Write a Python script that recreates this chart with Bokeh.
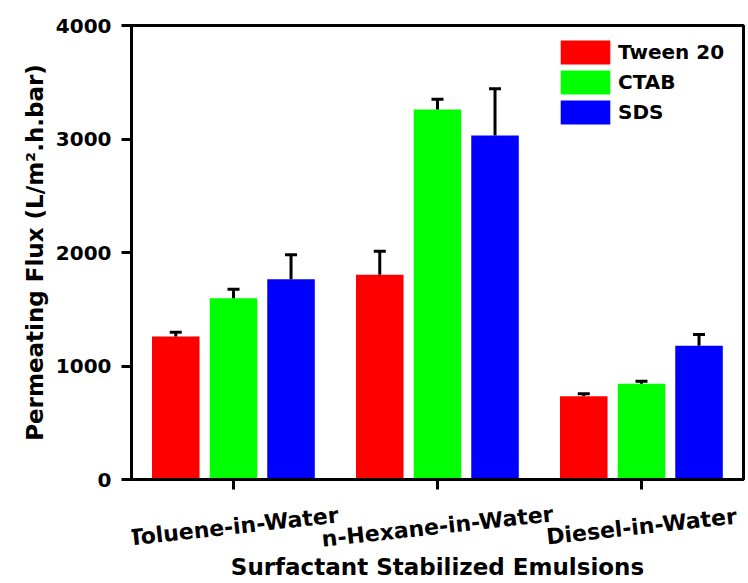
from bokeh.plotting import figure
from bokeh.layouts import column
from bokeh.models import (ColumnDataSource, Range1d, FixedTicker, Whisker, TeeHead,
                          Legend, LegendItem)
from bokeh.core.properties import value
from bokeh.embed import file_html
from bokeh.resources import INLINE

categories = ["Toluene-in-Water", "n-Hexane-in-Water", "Diesel-in-Water"]
surfactants = ["Tween 20", "CTAB", "SDS"]
tween20 = [1260, 1803, 734]
ctab = [1597, 3260, 843]
sds = [1765, 3031, 1178]
tween20_err = [38, 208, 21]
ctab_err = [80, 91, 23]
sds_err = [215, 411, 99]
y_ticks = [0, 1000, 2000, 3000, 4000]

colors = ["#FF0000", "#00FF00", "#0000FF"]
offsets = [-0.283, 0.0, 0.282]
bar_width = 0.233
FONT = "DejaVu Sans"

x_range = Range1d(-0.5, 2.5)

p = figure(width=748, height=499, x_range=x_range, y_range=Range1d(0, 4000),
           output_backend="svg", toolbar_location=None,
           min_border_left=131, min_border_right=5, min_border_top=25, min_border_bottom=20)
p.background_fill_color = "white"
p.border_fill_color = "white"
p.xgrid.visible = False
p.ygrid.visible = False
p.outline_line_color = "black"
p.outline_line_width = 3

series = [tween20, ctab, sds]
errors = [tween20_err, ctab_err, sds_err]
items = []
for i, (name, vals, errs) in enumerate(zip(surfactants, series, errors)):
    src = ColumnDataSource(dict(
        x=[j + offsets[i] for j in range(len(categories))],
        top=vals,
        lower=vals,
        upper=[v + e for v, e in zip(vals, errs)],
    ))
    r = p.vbar(x="x", top="top", width=bar_width, fill_color=colors[i], line_color=None, source=src)
    w = Whisker(base="x", lower="lower", upper="upper", source=src, line_width=3, line_color="black",
                lower_head=None, upper_head=TeeHead(size=12, line_width=3, line_color="black"),
                level="annotation")
    p.add_layout(w)
    items.append(LegendItem(label=name, renderers=[r]))

legend = Legend(items=items, location=(423, 352), padding=0, margin=0, spacing=0,
                glyph_width=62, glyph_height=30, label_height=30, label_standoff=2,
                border_line_color=None, background_fill_alpha=0,
                label_text_font=FONT, label_text_font_style="bold", label_text_font_size="20px",
                label_text_color="black")
p.add_layout(legend)

# y axis
p.yaxis.ticker = FixedTicker(ticks=y_ticks)
p.yaxis.axis_label = "Permeating Flux (L/m\u00b2.h.bar)"
p.yaxis.axis_label_text_font = FONT
p.yaxis.axis_label_text_font_style = "bold"
p.yaxis.axis_label_text_font_size = "23px"
p.yaxis.axis_label_standoff = 5
p.yaxis.major_label_text_font = FONT
p.yaxis.major_label_text_font_style = "bold"
p.yaxis.major_label_text_font_size = "20px"
p.yaxis.major_label_standoff = 10
p.yaxis.major_label_text_color = "black"

# x axis: ticks only (category names drawn tilted in the strip below)
p.xaxis.ticker = FixedTicker(ticks=list(range(len(categories))))
p.xaxis.major_label_text_font_size = "0px"
p.xaxis.major_label_text_color = None

for ax in (p.xaxis[0], p.yaxis[0]):
    ax.axis_line_width = 3
    ax.axis_line_color = "black"
    ax.major_tick_line_width = 3
    ax.major_tick_line_color = "black"
    ax.major_tick_out = 10
    ax.major_tick_in = 0
    ax.minor_tick_line_color = None
    ax.axis_label_text_color = "black"

# strip below the chart: tilted category names + x axis title
p2 = figure(width=748, height=84, x_range=x_range, y_range=Range1d(0, 1),
            output_backend="svg", toolbar_location=None, y_axis_location=None,
            min_border_left=131, min_border_right=5, min_border_top=0, min_border_bottom=33)
p2.background_fill_color = "white"
p2.border_fill_color = "white"
p2.outline_line_color = None
p2.xgrid.visible = False
p2.ygrid.visible = False
p2.xaxis.ticker = FixedTicker(ticks=[])
p2.xaxis.axis_line_color = None
p2.xaxis.major_tick_out = 0
p2.xaxis.major_tick_in = 0
p2.xaxis.minor_tick_line_color = None
p2.xaxis.major_label_standoff = 0
p2.xaxis.axis_label = "Surfactant Stabilized Emulsions"
p2.xaxis.axis_label_text_font = FONT
p2.xaxis.axis_label_text_font_style = "bold"
p2.xaxis.axis_label_text_font_size = "23px"
p2.xaxis.axis_label_text_color = "black"
p2.xaxis.axis_label_standoff = 3

cat_src = ColumnDataSource(dict(x=list(range(len(categories))), text=categories))
p2.text(x="x", y=0.47, text="text", source=cat_src, angle=0.11,
        text_align="center", text_baseline="middle",
        text_font=value(FONT), text_font_style="bold", text_font_size=value("22px"),
        text_color="black")

layout = column(p, p2, spacing=0)
open("out.html", "w").write(file_html(layout, INLINE))
